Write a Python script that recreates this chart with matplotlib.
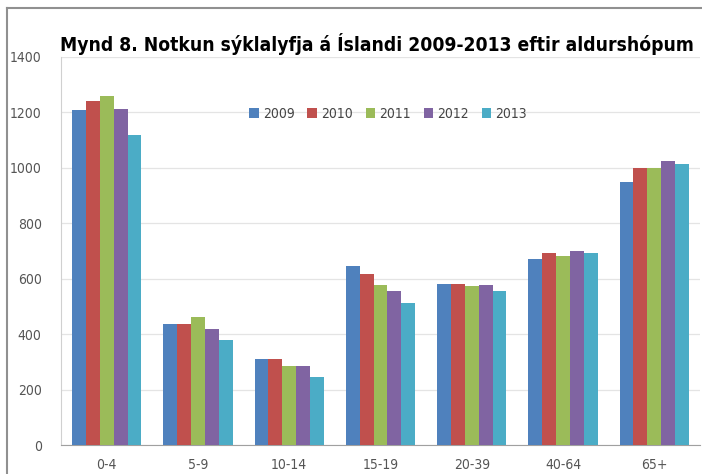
import numpy as np
from matplotlib import pyplot as plt
from matplotlib.lines import Line2D

plt.rcParams['font.family'] = ['DejaVu Sans']
plt.rcParams['font.stretch'] = 'condensed'

age_groups = ['0-4', '5-9', '10-14', '15-19', '20-39', '40-64', '65+']
years = ['2009', '2010', '2011', '2012', '2013']
usage = {
    '2009': [1207, 437, 310, 646, 580, 671, 947],
    '2010': [1242, 437, 310, 617, 580, 692, 1001],
    '2011': [1259, 463, 286, 576, 575, 681, 1001],
    '2012': [1213, 418, 286, 556, 578, 699, 1024],
    '2013': [1120, 380, 247, 511, 557, 694, 1013],
}
colors = ['#4F81BD', '#C0504D', '#9BBB59', '#8064A2', '#4BACC6']

fig = plt.figure(figsize=(7.02, 4.74), dpi=100)
ax = fig.add_axes([0.087, 0.061, 0.910, 0.819])

x = np.arange(len(age_groups))
bw = 0.152
for i, yr in enumerate(years):
    ax.bar(x + (i - 2) * bw, usage[yr], width=bw, color=colors[i], label=yr, zorder=3)

ax.set_xlim(-0.5, len(age_groups) - 0.5)
ax.set_ylim(0, 1400)
ax.set_yticks(range(0, 1401, 200))
ax.set_xticks(x)
ax.set_xticklabels(age_groups)
ax.tick_params(axis='both', length=0, colors='#555555', labelsize=10)
ax.tick_params(axis='y', pad=14)
ax.tick_params(axis='x', pad=9)
ax.yaxis.grid(True, color='#e4e4e4', linewidth=0.9, zorder=0)
ax.set_axisbelow(True)
for side in ['top', 'right']:
    ax.spines[side].set_visible(False)
ax.spines['left'].set_color('#d0d0d0')
ax.spines['bottom'].set_color('#a0a0a0')

leg = ax.legend(loc='center', bbox_to_anchor=(0.512, 0.853), ncol=5, frameon=False,
                handlelength=0.7, handleheight=0.7, handletextpad=0.3, columnspacing=0.9,
                fontsize=10)
for t in leg.get_texts():
    t.set_color('#444444')

fig.text(0.537, 0.908, 'Mynd 8. Notkun sýklalyfja á Íslandi 2009-2013 eftir aldurshópum',
         ha='center', va='center', fontsize=13.8, fontweight='bold', color='black')

# outer frame, left and top edges
fig.add_artist(Line2D([7 / 702, 7 / 702], [0, 1 - 8 / 474], transform=fig.transFigure,
                      color='#909090', linewidth=1.5))
fig.add_artist(Line2D([7 / 702, 1], [1 - 8 / 474, 1 - 8 / 474], transform=fig.transFigure,
                      color='#909090', linewidth=1.5))

plt.savefig('out.png', dpi=100)
